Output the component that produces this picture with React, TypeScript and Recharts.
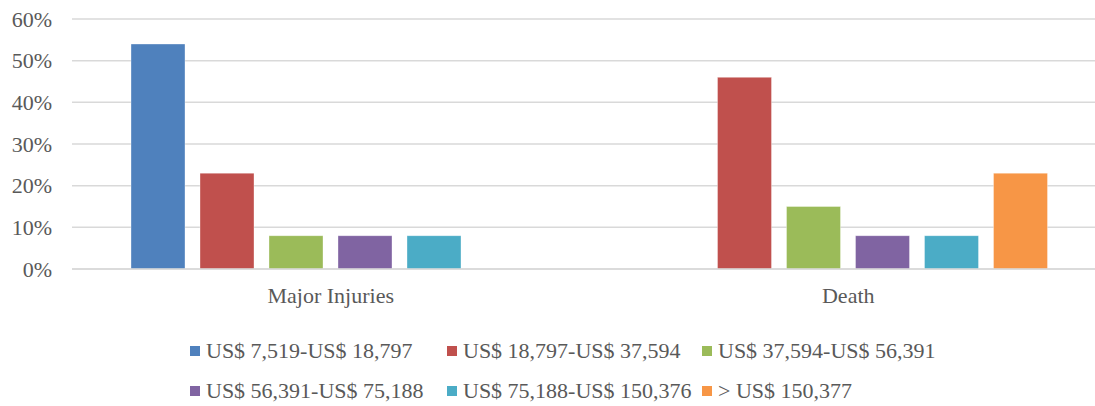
import React from 'react';
import { BarChart, Bar, XAxis, YAxis, CartesianGrid, Legend } from 'recharts';

const categories = ['Major Injuries', 'Death'];
const seriesNames = [
  'US$ 7,519-US$ 18,797',
  'US$ 18,797-US$ 37,594',
  'US$ 37,594-US$ 56,391',
  'US$ 56,391-US$ 75,188',
  'US$ 75,188-US$ 150,376',
  '> US$ 150,377',
];
const seriesColors = ['#4F81BD', '#C0504D', '#9BBB59', '#8064A2', '#4BACC6', '#F79646'];
const s1 = [0.54, 0];
const s2 = [0.23, 0.46];
const s3 = [0.08, 0.15];
const s4 = [0.08, 0.08];
const s5 = [0.08, 0.08];
const s6 = [0, 0.23];
const seriesValues = [s1, s2, s3, s4, s5, s6];
const yTicks = [0, 0.1, 0.2, 0.3, 0.4, 0.5, 0.6];

const data = categories.map((c, i) => {
  const row: Record<string, any> = { name: c };
  seriesValues.forEach((vals, k) => {
    row['s' + k] = vals[i];
  });
  return row;
});

const FONT = 'Liberation Serif';
const TEXT = '#595959';

const LegendContent = () => {
  return (
    <div
      style={{
        position: 'absolute',
        left: 190,
        top: 0,
        display: 'grid',
        gridTemplateColumns: '257px 255px 300px',
        rowGap: 16,
        fontFamily: FONT,
        fontSize: 22,
        color: TEXT,
      }}
    >
      {seriesNames.map((n, i) => (
        <div key={n} style={{ display: 'flex', alignItems: 'center', height: 24, whiteSpace: 'nowrap' }}>
          <span
            style={{
              display: 'inline-block',
              width: 10,
              height: 10,
              background: seriesColors[i],
              marginRight: 6,
            }}
          />
          <span>{n}</span>
        </div>
      ))}
    </div>
  );
};

export default function App() {
  return (
    <div style={{ position: 'absolute', left: 0, top: 0, width: 1095, height: 406, overflow: 'hidden', background: '#fff' }}>
      <BarChart
        width={1107}
        height={406}
        data={data}
        margin={{ top: 19, right: 0, bottom: 0, left: 0 }}
        barCategoryGap={59}
        barGap={15}
      >
        <CartesianGrid vertical={false} stroke="#D9D9D9" strokeWidth={1.5} />
        <XAxis
          dataKey="name"
          height={137}
          tickLine={false}
          tickSize={0}
          tickMargin={18}
          axisLine={{ stroke: '#D9D9D9', strokeWidth: 1.5 }}
          tick={{ fill: TEXT, fontFamily: FONT, fontSize: 22 }}
        />
        <YAxis
          width={72}
          domain={[0, 0.6]}
          ticks={yTicks}
          axisLine={false}
          tickLine={false}
          tickSize={0}
          tickMargin={20}
          tickFormatter={(v: number) => Math.round(v * 100) + '%'}
          tick={{ fill: TEXT, fontFamily: FONT, fontSize: 22 }}
        />
        <Legend
          content={<LegendContent />}
          wrapperStyle={{ position: 'absolute', left: 0, top: 339, width: 1095, height: 0 }}
        />
        {seriesNames.map((n, k) => (
          <Bar
            key={n}
            dataKey={'s' + k}
            name={n}
            fill={seriesColors[k]}
            stroke="#ffffff"
            strokeOpacity={0.35}
            strokeWidth={1}
            isAnimationActive={false}
          />
        ))}
      </BarChart>
    </div>
  );
}
